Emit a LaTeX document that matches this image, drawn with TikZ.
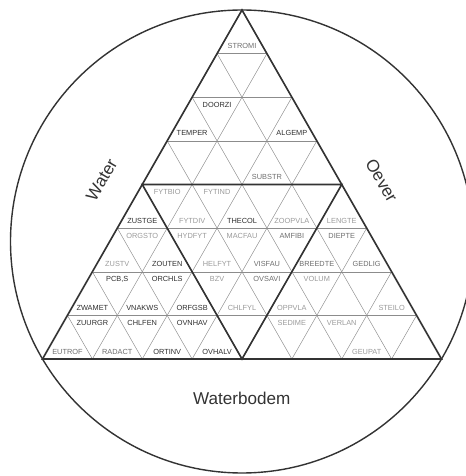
\documentclass[tikz,border=0pt]{standalone}
\usepackage{fontspec}
\setmainfont{Liberation Sans}
\usetikzlibrary{calc}
\definecolor{labDark}{HTML}{2E2E2E}
\definecolor{labMid}{HTML}{6E6E6E}
\definecolor{labLight}{HTML}{9A9A9A}
\definecolor{gridGray}{HTML}{8C8C8C}
\definecolor{frameDark}{HTML}{333333}

\begin{document}
\begin{tikzpicture}[
    gridline/.style={gridGray, line width=0.4pt},
    thickline/.style={frameDark, line width=1.4pt, line join=miter},
    cell/.style={font=\fontsize{6.3}{7}\selectfont, inner sep=0pt},
    side/.style={font=\fontsize{14.6}{16}\selectfont, text=frameDark, inner sep=1pt}]
    \clip (0,0) rectangle (13.98,14.28);
    \draw[frameDark, line width=1.2pt] (7.26,7.035) circle (6.945);
    \begin{scope}[shift={(1.275,3.51)}, x={(1.49625cm,0cm)}, y={(0.748125cm,1.30875cm)}]
        \foreach \k in {1,...,7} {
            \draw[gridline] (0,\k) -- ({8-\k},\k);
            \draw[gridline] (\k,0) -- (\k,{8-\k});
            \draw[gridline] (\k,0) -- (0,\k);
        }
        \draw[thickline] (0,0) -- (8,0) -- (0,8) -- cycle;
        \draw[thickline] (4,0) -- (4,4) -- (0,4) -- cycle;
        \foreach \r/\k/\lab/\c in {0/0/STROMI/labMid, 2/0/TEMPER/labDark,
                2/2/ALGEMP/labDark, 3/2/SUBSTR/labMid, 4/0/ZUSTGE/labDark,
                4/1/FYTDIV/labLight, 4/2/THECOL/labDark, 4/3/ZOOPVLA/labLight,
                4/4/LENGTE/labLight, 5/0/ZUSTV/labLight, 5/1/ZOUTEN/labDark,
                5/2/HELFYT/labLight, 5/3/VISFAU/labMid, 5/4/BREEDTE/labMid,
                5/5/GEDLIG/labMid, 6/0/ZWAMET/labDark, 6/1/VNAKWS/labDark,
                6/2/ORFGSB/labDark, 6/3/CHLFYL/labLight, 6/4/OPPVLA/labLight,
                6/6/STEILO/labLight, 7/0/EUTROF/labMid, 7/1/RADACT/labMid,
                7/2/ORTINV/labDark, 7/3/OVHALV/labDark, 7/6/GEUPAT/labLight}
            \node[cell, text=\c] (u\r\k) at ({\k+0.415},{7.17-\r}) {\lab};
        \foreach \r/\k/\lab/\c in {2/0/DOORZI/labDark, 4/0/FYTBIO/labLight,
                4/1/FYTIND/labLight, 5/0/ORGSTO/labLight, 5/1/HYDFYT/labLight,
                5/2/MACFAU/labLight, 5/3/AMFIBI/labMid, 5/4/DIEPTE/labMid,
                6/0/{PCB,S}/labDark, 6/1/ORCHLS/labDark, 6/2/BZV/labLight,
                6/3/OVSAVI/labMid, 6/4/VOLUM/labLight, 7/0/ZUURGR/labDark,
                7/1/CHLFEN/labDark, 7/2/OVNHAV/labDark, 7/4/SEDIME/labLight,
                7/5/VERLAN/labLight}
            \node[cell, text=\c] (d\r\k) at ({\k+0.585},{7.83-\r}) {\lab};
    \end{scope}
    \node[side, rotate=60] (water) at (3.05,8.88) {Water};
    \node[side, rotate=-60] (oever) at (11.45,8.86) {Oever};
    \node[side] (bodem) at (7.25,2.33) {Waterbodem};
\end{tikzpicture}
\end{document}
